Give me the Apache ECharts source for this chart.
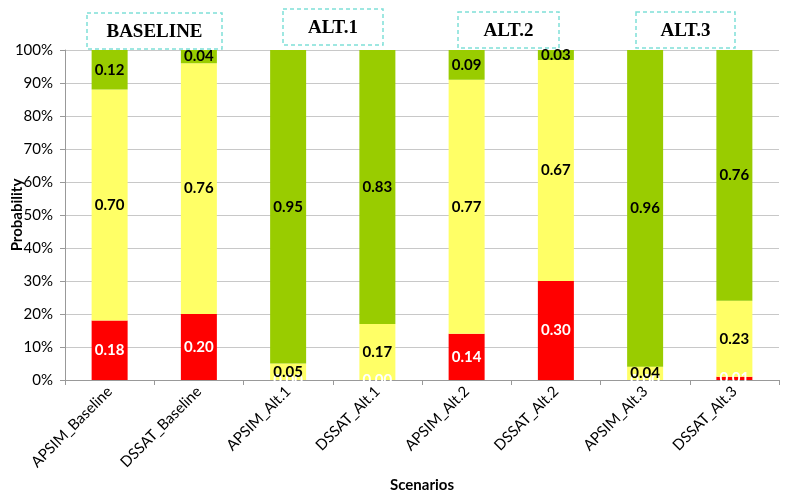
<!DOCTYPE html>
<html>
<head>
<meta charset="utf-8">
<script src="https://cdn.jsdelivr.net/npm/echarts@6/dist/echarts.min.js"></script>
<style>html,body{margin:0;padding:0;background:#fff;}#c{width:789px;height:497px;}</style>
</head>
<body>
<div id="c"></div>
<script>
var categories = ['APSIM_Baseline','DSSAT_Baseline','APSIM_Alt.1','DSSAT_Alt.1','APSIM_Alt.2','DSSAT_Alt.2','APSIM_Alt.3','DSSAT_Alt.3'];
var redValues = [0.18, 0.20, 0.00, 0.00, 0.14, 0.30, 0.00, 0.01];
var yellowValues = [0.70, 0.76, 0.05, 0.17, 0.77, 0.67, 0.04, 0.23];
var greenValues = [0.12, 0.04, 0.95, 0.83, 0.09, 0.03, 0.96, 0.76];
var groupLabels = ['BASELINE', 'ALT.1', 'ALT.2', 'ALT.3'];

var chart = echarts.init(document.getElementById('c'));
var FONT = 'Lato, "Open Sans", sans-serif';
function lbl(color) {
  return {show: true, position: 'inside', color: color, fontFamily: FONT, fontWeight: 'bold', fontSize: 15,
    formatter: function (p) { return p.value.toFixed(2); }};
}
var boxes = [
  {x: 87, y: 13, w: 135, h: 36},
  {x: 283, y: 9, w: 100, h: 36},
  {x: 458, y: 12, w: 101, h: 36},
  {x: 636, y: 12, w: 99, h: 36}
];
var graphics = [];
boxes.forEach(function (b, i) {
  graphics.push({type: 'rect', shape: {x: b.x, y: b.y, width: b.w, height: b.h},
    style: {fill: '#fff', stroke: '#7fe0d8', lineWidth: 1.5, lineDash: [4, 3]}, z: 10});
  graphics.push({type: 'text', x: b.x + b.w / 2, y: b.y + b.h / 2 + 1,
    style: {text: groupLabels[i], fill: '#000', font: 'bold 19px "Liberation Serif", "DejaVu Serif", serif',
      textAlign: 'center', textVerticalAlign: 'middle'}, z: 11});
});
chart.setOption({
  animation: false,
  grid: {left: 65, right: 10, top: 50, bottom: 117, containLabel: false, outerBoundsMode: 'none'},
  xAxis: {
    type: 'category', data: categories,
    axisLine: {lineStyle: {color: '#999', width: 1}},
    axisTick: {show: true, alignWithLabel: false, length: 5, lineStyle: {color: '#999'}},
    axisLabel: {rotate: 45, fontFamily: FONT, fontSize: 15, color: '#000', margin: 9, interval: 0},
    name: 'Scenarios', nameLocation: 'middle', nameGap: 98, nameMoveOverlap: false,
    nameTextStyle: {fontFamily: FONT, fontWeight: 'bold', fontSize: 15, color: '#000'}
  },
  yAxis: {
    type: 'value', min: 0, max: 1, interval: 0.1,
    axisLine: {show: true, lineStyle: {color: '#999'}},
    axisTick: {show: true, length: 5, lineStyle: {color: '#999'}},
    splitLine: {lineStyle: {color: '#c8c8c8'}},
    axisLabel: {fontFamily: FONT, fontSize: 15, color: '#000', margin: 12,
      formatter: function (v) { return Math.round(v * 100) + '%'; }},
    name: 'Probability', nameLocation: 'middle', nameGap: 40, nameMoveOverlap: false,
    nameTextStyle: {fontFamily: FONT, fontWeight: 'bold', fontSize: 15, color: '#000'}
  },
  series: [
    {type: 'bar', stack: 't', data: redValues, barWidth: 36, itemStyle: {color: '#ff0000'}, label: lbl('#ffffff')},
    {type: 'bar', stack: 't', data: yellowValues, barWidth: 36, itemStyle: {color: '#ffff66'}, label: lbl('#000000')},
    {type: 'bar', stack: 't', data: greenValues, barWidth: 36, itemStyle: {color: '#99cc00'}, label: lbl('#000000')}
  ],
  graphic: graphics
});
</script>
</body>
</html>
